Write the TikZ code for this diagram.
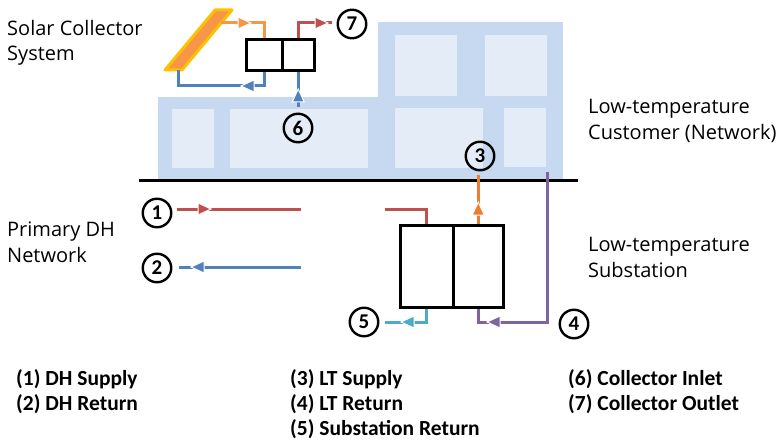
\documentclass[tikz,border=0pt]{standalone}
\usepackage{fontspec}
\setmainfont{Carlito}
\newfontfamily\labelfont{Open Sans}
\definecolor{dhred}{HTML}{C0504D}
\definecolor{dhblue}{HTML}{4F81BD}
\definecolor{solarorange}{HTML}{F79646}
\definecolor{ltorange}{HTML}{ED7D31}
\definecolor{ltpurple}{HTML}{8064A2}
\definecolor{subcyan}{HTML}{4BACC6}
\definecolor{bldg}{HTML}{C6D9F1}
\definecolor{win}{HTML}{E4ECF7}
\definecolor{panel}{HTML}{F79646}
\definecolor{panelrim}{HTML}{FFC000}
\begin{document}
\begin{tikzpicture}[x=1pt,y=-1pt,
  pipe/.style={line width=3pt},
  hxcell/.style={draw=black, fill=white, line width=3pt, inner sep=0pt},
  tag/.style={circle, draw=black, line width=2.4pt, minimum size=28.5pt, inner sep=0pt,
              font=\fontsize{21}{21}\selectfont\bfseries},
  lbl/.style={anchor=base west, inner sep=0pt, font=\labelfont\fontsize{20}{20}\selectfont},
  leg/.style={anchor=base west, inner sep=0pt, font=\fontsize{21.5}{21.5}\selectfont\bfseries},
  pics/flowhead/.style={code={
    \filldraw[fill=#1, draw=white, line width=1pt] (0,0) -- (-13,6) -- (-13,-6) -- cycle;}}
]
\useasboundingbox (0,0) rectangle (782,441);

% buildings
\fill[bldg] (158,97) rectangle (378,181);
\fill[bldg] (378,22) rectangle (563,181);
\fill[win] (172,109) rectangle (214,168);
\fill[win] (230,109) rectangle (368,168);
\fill[win] (395,108) rectangle (483,168);
\fill[win] (504,108) rectangle (546,167);
\fill[win] (395,35) rectangle (457,96);
\fill[win] (485,35) rectangle (547,96);

% ground line
\draw[line width=3pt] (139,181) -- (578,181);

% solar collector panel
\filldraw[fill=panel, draw=panelrim, line width=3pt, line join=round]
  (215,10) -- (232,10) -- (182,70) -- (165,70) -- cycle;

% heat exchangers
\node[hxcell, minimum width=35.5pt, minimum height=31pt] (sL) at (264.25,55) {};
\node[hxcell, minimum width=32.5pt, minimum height=31pt] (sR) at (298.25,55) {};
\node[hxcell, minimum width=52.5pt, minimum height=82pt] (bL) at (426.75,266.5) {};
\node[hxcell, minimum width=50.5pt, minimum height=82pt] (bR) at (478.25,266.5) {};

% pipe end points
\coordinate (r1a) at (177,209);
\coordinate (r1b) at (301,209);
\coordinate (r1c) at (385,209);
\coordinate (b2a) at (179,267);
\coordinate (b2b) at (301,267);
\coordinate (o3) at (478.25,175);
\coordinate (p4top) at (547,172);
\coordinate (p4bend) at (547,322);
\coordinate (c5end) at (385,322);
\coordinate (b6) at (298.25,107);
\coordinate (r7end) at (332,23);
\coordinate (os) at (221,23);
\coordinate (br) at (178,86);
\coordinate (bp) at (178,70);

% pipes
\draw[pipe, dhred] (r1a) -- (r1b);
\draw[pipe, dhred] (r1c) -| (bL.north);
\draw[pipe, dhblue] (b2a) -- (b2b);
\draw[pipe, ltorange] (bR.north) -- (o3);
\draw[pipe, ltpurple] (p4top) -- (p4bend) -| (bR.south);
\draw[pipe, subcyan] (bL.south) |- (c5end);
\draw[pipe, dhblue] (b6) -- (sR.south);
\draw[pipe, dhred] (sR.north) |- (r7end);
\draw[pipe, solarorange] (os) -| (sL.north);
\draw[pipe, dhblue] (sL.south) |- (br) -- (bp);

% redraw exchanger outlines above pipe ends
\node[hxcell, minimum width=35.5pt, minimum height=31pt, fill=none] at (sL) {};
\node[hxcell, minimum width=32.5pt, minimum height=31pt, fill=none] at (sR) {};
\node[hxcell, minimum width=52.5pt, minimum height=82pt, fill=none] at (bL) {};
\node[hxcell, minimum width=50.5pt, minimum height=82pt, fill=none] at (bR) {};

% flow direction heads
\pic at (211,209) {flowhead=dhred};
\pic[rotate=180] at (191,267) {flowhead=dhblue};
\pic[rotate=90] at (478.25,202) {flowhead=ltorange};
\pic[rotate=180] at (487,322) {flowhead=ltpurple};
\pic[rotate=180] at (401,322) {flowhead=subcyan};
\pic[rotate=90] at (298.25,89) {flowhead=dhblue};
\pic at (328,23) {flowhead=dhred};
\pic at (251,23) {flowhead=solarorange};
\pic[rotate=180] at (241,86) {flowhead=dhblue};

% numbered tags
\node[tag] (n1) at (157,213) {1};
\node[tag] (n2) at (157,268) {2};
\node[tag] (n3) at (480,156) {3};
\node[tag] (n4) at (574,324) {4};
\node[tag] (n5) at (364,322) {5};
\node[tag] (n6) at (298,128) {6};
\node[tag] (n7) at (352,24) {7};

% labels
\node[lbl] (tSolarA) at (7,36) {Solar Collector};
\node[lbl] (tSolarB) at (7,61) {System};
\node[lbl] (tCustA) at (588,114) {Low-temperature};
\node[lbl] (tCustB) at (588,140) {Customer (Network)};
\node[lbl] (tPrimA) at (7,236) {Primary DH};
\node[lbl] (tPrimB) at (7,262) {Network};
\node[lbl] (tSubA) at (588,251) {Low-temperature};
\node[lbl] (tSubB) at (588,277) {Substation};

% legend
\node[leg] (l1) at (16,385) {(1) DH Supply};
\node[leg] (l2) at (16,410) {(2) DH Return};
\node[leg] (l3) at (290,385) {(3) LT Supply};
\node[leg] (l4) at (290,410) {(4) LT Return};
\node[leg] (l5) at (290,435) {(5) Substation Return};
\node[leg] (l6) at (568,385) {(6) Collector Inlet};
\node[leg] (l7) at (568,410) {(7) Collector Outlet};
\end{tikzpicture}
\end{document}
